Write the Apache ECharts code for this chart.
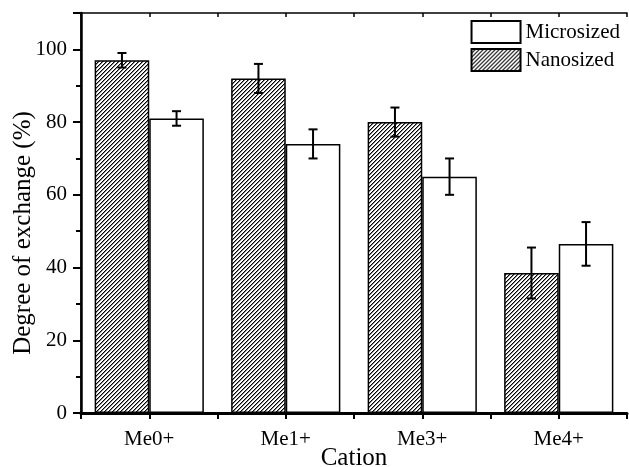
<!DOCTYPE html>
<html>
<head>
<meta charset="utf-8">
<script src="https://cdn.jsdelivr.net/npm/echarts@6/dist/echarts.min.js"></script>
<style>
  html, body { margin: 0; padding: 0; background: #fff; }
  #chart { width: 629px; height: 467px; }
</style>
</head>
<body>
<div id="chart"></div>
<script>
const cations = ['Me0+', 'Me1+', 'Me3+', 'Me4+']
const nanoVals = [97, 92, 80, 38.5]
const nanoErr = [2, 4, 4, 7]
const microVals = [81, 74, 65, 46.5]
const microErr = [2, 4, 5, 6]
const yTicks = { min: 0, max: 110, interval: 20 }

const FONT = 'Liberation Serif'

// diagonal "/" hatch tile
function hatchTile() {
    const c = document.createElement('canvas')
    c.width = 4
    c.height = 4
    const g = c.getContext('2d')
    g.fillStyle = '#fff'
    g.fillRect(0, 0, 4, 4)
    for (let i = 0; i < 4; i++) {
        g.fillStyle = '#000'
        g.fillRect(i, 3 - i, 1, 1)
        g.fillStyle = '#888'
        g.fillRect((i + 1) % 4, 3 - i, 1, 1)
    }
    return c
}
const hatch = { image: hatchTile(), repeat: 'repeat' }

function errData(vals, errs) {
    return vals.map((v, i) => [i, v - errs[i], v + errs[i]])
}

function errRender(side) {
    return function (params, api) {
        const i = api.value(0)
        const bw = api.size([1, 0])[0]
        const dx = side * bw * 0.2
        const lo = api.coord([i, api.value(1)])
        const hi = api.coord([i, api.value(2)])
        const x = lo[0] + dx
        const cap = 4.5
        const style = { stroke: '#000', lineWidth: 2 }
        return {
            type: 'group',
            children: [
                { type: 'line', shape: { x1: x, y1: lo[1], x2: x, y2: hi[1] }, style },
                { type: 'line', shape: { x1: x - cap, y1: lo[1], x2: x + cap, y2: lo[1] }, style },
                { type: 'line', shape: { x1: x - cap, y1: hi[1], x2: x + cap, y2: hi[1] }, style }
            ]
        }
    }
}

const chart = echarts.init(document.getElementById('chart'), null, { renderer: 'canvas' })

const option = {
    backgroundColor: '#fff',
    animation: false,
    textStyle: { fontFamily: FONT, color: '#000' },
    grid: { left: 81, right: 2, top: 13, bottom: 54, containLabel: false, outerBoundsMode: 'none' },
    legend: {
        data: ['Microsized', 'Nanosized'],
        orient: 'vertical',
        right: 4,
        top: 15,
        itemWidth: 49,
        itemHeight: 22,
        itemGap: 4,
        icon: 'rect',
        itemStyle: { borderColor: '#000', borderWidth: 2 },
        textStyle: { fontFamily: FONT, fontSize: 21, color: '#000' }
    },
    xAxis: [
        {
            type: 'category',
            data: cations,
            position: 'bottom',
            name: 'Cation',
            nameLocation: 'middle',
            nameGap: 33,
            nameMoveOverlap: false,
            nameTextStyle: { fontFamily: FONT, fontSize: 25, color: '#000' },
            axisLine: { show: false },
            axisTick: { show: false },
            axisLabel: { fontFamily: FONT, fontSize: 21, color: '#000', margin: 16 }
        },
        {
            type: 'value',
            position: 'bottom',
            min: 0, max: 8, interval: 1,
            axisLine: { show: true, lineStyle: { color: '#000', width: 3 } },
            axisTick: { show: true, inside: false, length: 6, lineStyle: { color: '#000', width: 2 } },
            axisLabel: { show: false },
            splitLine: { show: false }
        },
        {
            type: 'value',
            position: 'top',
            min: 0, max: 8, interval: 1,
            axisLine: { show: true, lineStyle: { color: '#000', width: 1.5 } },
            axisTick: { show: true, inside: true, length: 4, lineStyle: { color: '#000', width: 1.5 } },
            axisLabel: { show: false },
            splitLine: { show: false }
        }
    ],
    yAxis: [
        {
            type: 'value',
            position: 'left',
            min: yTicks.min, max: yTicks.max, interval: yTicks.interval,
            name: 'Degree of exchange (%)',
            nameLocation: 'middle',
            nameGap: 45,
            nameMoveOverlap: false,
            nameTextStyle: { fontFamily: FONT, fontSize: 25, color: '#000', padding: [0, 40, 0, 0] },
            axisLine: { show: true, lineStyle: { color: '#000', width: 2.5 } },
            axisTick: { show: true, inside: false, length: 8, lineStyle: { color: '#000', width: 2 } },
            minorTick: { show: true, splitNumber: 2, length: 5, lineStyle: { color: '#000', width: 2 } },
            axisLabel: { fontFamily: FONT, fontSize: 21, color: '#000', margin: 14, showMaxLabel: false },
            splitLine: { show: false }
        },
        {
            type: 'value',
            position: 'right',
            min: yTicks.min, max: yTicks.max, interval: yTicks.interval,
            axisLine: { show: true, lineStyle: { color: '#000', width: 1.5 } },
            axisTick: { show: true, inside: true, length: 4, lineStyle: { color: '#000', width: 1.5 } },
            minorTick: { show: true, splitNumber: 2, length: 3, lineStyle: { color: '#000', width: 1.5 } },
            axisLabel: { show: false },
            splitLine: { show: false }
        }
    ],
    series: [
        {
            name: 'Nanosized',
            type: 'bar',
            xAxisIndex: 0,
            yAxisIndex: 0,
            data: nanoVals,
            barGap: '0%',
            barCategoryGap: '20%',
            itemStyle: { color: hatch, borderColor: '#000', borderWidth: 1.5 }
        },
        {
            name: 'Microsized',
            type: 'bar',
            xAxisIndex: 0,
            yAxisIndex: 0,
            data: microVals,
            barGap: '0%',
            barCategoryGap: '20%',
            itemStyle: { color: '#fff', borderColor: '#000', borderWidth: 1.5 }
        },
        {
            name: 'nanoErr',
            type: 'custom',
            xAxisIndex: 0,
            yAxisIndex: 0,
            z: 5,
            renderItem: errRender(-1),
            encode: { x: 0, y: [1, 2] },
            data: errData(nanoVals, nanoErr)
        },
        {
            name: 'microErr',
            type: 'custom',
            xAxisIndex: 0,
            yAxisIndex: 0,
            z: 5,
            renderItem: errRender(1),
            encode: { x: 0, y: [1, 2] },
            data: errData(microVals, microErr)
        }
    ]
}

chart.setOption(option)
</script>
</body>
</html>
